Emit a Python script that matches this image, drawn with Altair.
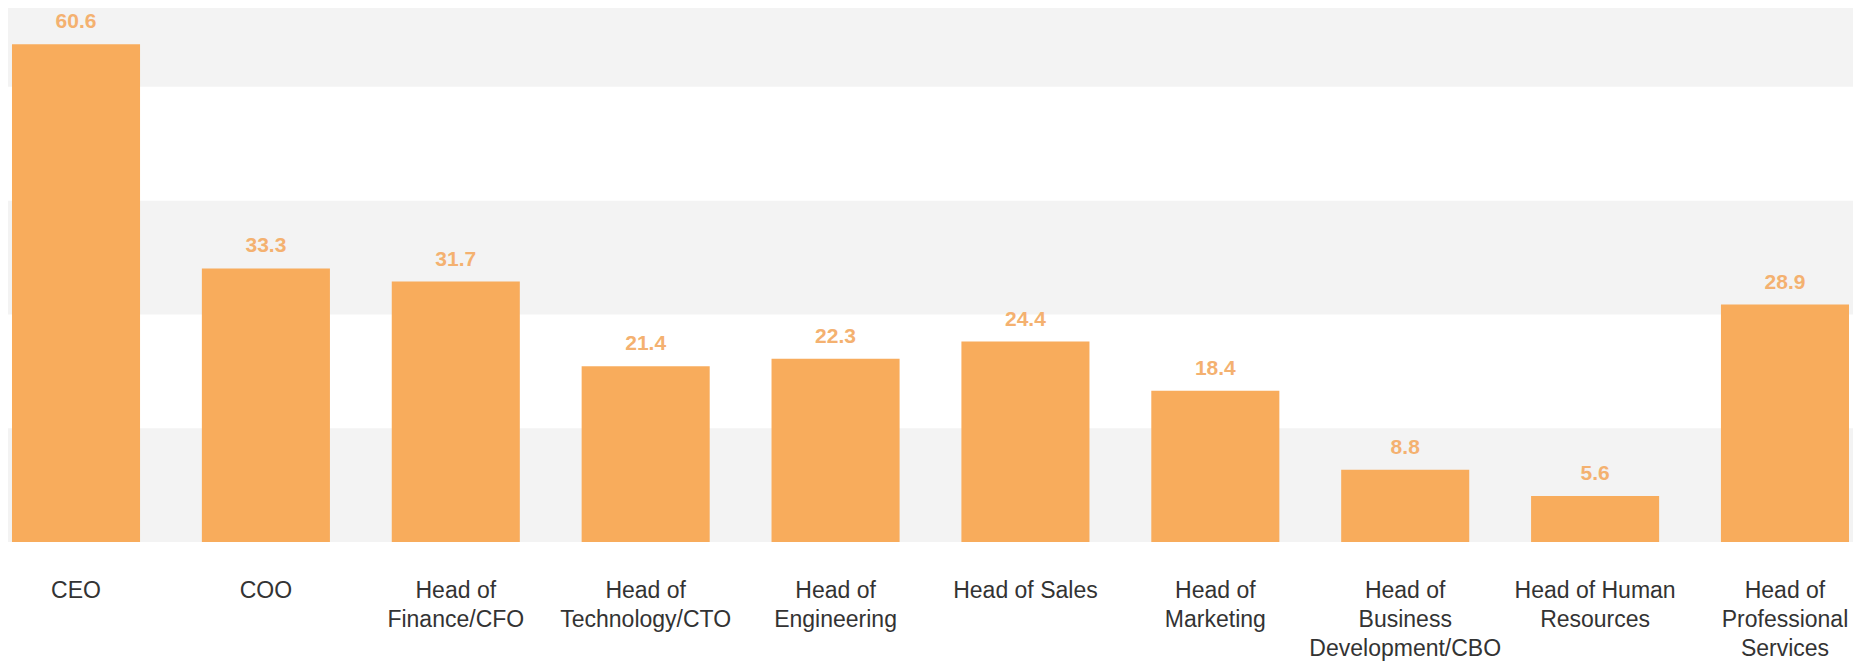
import altair as alt
import pandas as pd

# ---- data ----
categories = [
    "CEO",
    "COO",
    "Head of\nFinance/CFO",
    "Head of\nTechnology/CTO",
    "Head of\nEngineering",
    "Head of Sales",
    "Head of\nMarketing",
    "Head of\nBusiness\nDevelopment/CBO",
    "Head of Human\nResources",
    "Head of\nProfessional\nServices",
]
values = [60.6, 33.3, 31.7, 21.4, 22.3, 24.4, 18.4, 8.8, 5.6, 28.9]

# alternating grey background bands (value ranges)
band_lo = [0, 27.7, 55.4]
band_hi = [13.85, 41.55, 65.0]

Y_MAX = 65.0
W, H = 1845, 534
FONT = "Liberation Sans, Arial, sans-serif"
BAR = "#f8ac5c"
LABEL = "#f4b170"
GREY = "#f3f3f3"

df = pd.DataFrame({"role": categories, "value": values})
bands = pd.DataFrame({"lo": band_lo, "hi": band_hi})

y_scale = alt.Scale(domain=[0, Y_MAX], nice=False, zero=True)

band_layer = alt.Chart(bands).mark_rect(color=GREY).encode(
    x=alt.value(0),
    x2=alt.value(W),
    y=alt.Y("lo:Q", scale=y_scale, axis=None),
    y2="hi:Q",
)

x_enc = alt.X(
    "role:N",
    sort=None,
    scale=alt.Scale(paddingInner=0.3256, paddingOuter=0.021),
    axis=alt.Axis(
        title=None,
        labelAngle=0,
        domain=False,
        ticks=False,
        tickSize=0,
        labelPadding=37,
        labelFont=FONT,
        labelFontSize=23,
        labelColor="#333333",
        labelLineHeight=29,
        labelBaseline="top",
        labelExpr="split(datum.label, '\\n')",
        labelLimit=0,
        labelOverlap=False,
        labelBound=False,
        labelFlush=False,
        grid=False,
    ),
)

bars = alt.Chart(df).mark_bar(color=BAR).encode(
    x=x_enc,
    y=alt.Y("value:Q", scale=y_scale, axis=None),
)

texts = alt.Chart(df).mark_text(
    dy=-16,
    baseline="alphabetic",
    align="center",
    font=FONT,
    fontSize=21,
    fontWeight="bold",
    color=LABEL,
).encode(
    x=alt.X("role:N", sort=None),
    y=alt.Y("value:Q", scale=y_scale, axis=None),
    text=alt.Text("value:Q", format=".1f"),
)

chart = (
    alt.layer(band_layer, bars, texts)
    .properties(
        width=W,
        height=H,
        autosize=alt.AutoSizeParams(type="none"),
        padding={"left": 0, "top": 0, "right": 0, "bottom": 119},
        background="white",
    )
    .configure_view(stroke=None)
)

chart.save("out.html", embed_options={"renderer": "svg", "actions": False})
